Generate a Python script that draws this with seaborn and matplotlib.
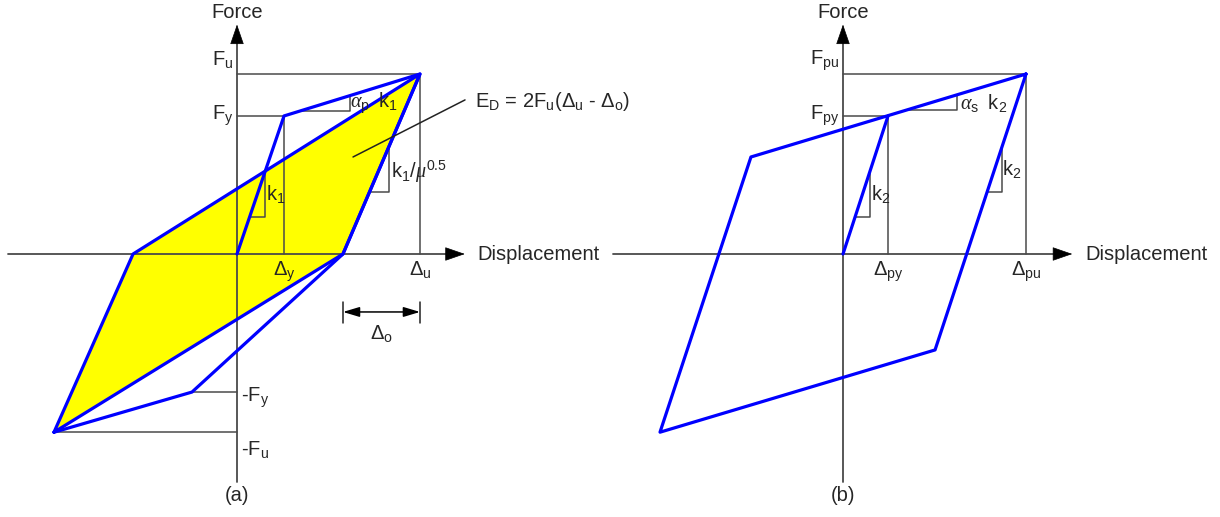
import numpy as np
import matplotlib.pyplot as plt
import seaborn as sns
from matplotlib.patches import ArrowStyle

# ---- panel (a): hysteresis of the bilinear model (displ / Du, force / Fu)
a_dy, a_fy = 0.257, 0.767          # yield point
a_du, a_fu = 1.0, 1.0              # ultimate point
a_rev = 0.579                      # zero-force crossing on unloading (Du - Do)
a_neg_dy, a_neg_fy = -0.246, -0.767
a_neg_du, a_neg_fu = -1.0, -0.99
a_fill_d = [-1.0, -0.568, 1.0, 0.579, -1.0]     # yellow area E_D
a_fill_f = [-0.99, 0.0, 1.0, 0.0, -0.99]
a_loop_d = [0.0, 0.257, 1.0, 0.579, -0.246, -1.0]
a_loop_f = [0.0, 0.767, 1.0, 0.0, -0.767, -0.99]

# ---- panel (b): steady-state loop
b_dy, b_fy = 0.246, 0.767
b_du, b_fu = 1.0, 1.0
b_init_d = [0.0, 0.246]
b_init_f = [0.0, 0.767]
b_loop_d = [1.0, 0.503, -1.0, -0.503, 1.0]
b_loop_f = [1.0, -0.533, -0.99, 0.539, 1.0]

sns.set_style('white')
plt.rcParams['font.family'] = ['Liberation Sans', 'DejaVu Sans']
plt.rcParams['mathtext.fontset'] = 'custom'
plt.rcParams['mathtext.rm'] = 'Liberation Sans'
plt.rcParams['mathtext.it'] = 'Liberation Serif:italic'
plt.rcParams['mathtext.default'] = 'regular'

BLUE = '#0000ff'
GREY = '#4a4a4a'
FS = 14.5

fig, axes = plt.subplots(1, 2, figsize=(12.2, 5.17), dpi=100)

# pixel layout: origin of each panel and scale (px per unit)
W, H = 1220, 517
sx, sy = 183.0, 180.0
for ax, ox, x0px, x1px in [(axes[0], 237, 0, 610), (axes[1], 843, 610, 1220)]:
    ax.set_position([x0px / W, 0, (x1px - x0px) / W, 1])
    ax.set_xlim((x0px - ox) / sx, (x1px - ox) / sx)
    ax.set_ylim(-(H - 254) / sy, 254 / sy)
    ax.axis('off')

head = ArrowStyle('-|>', head_length=1.3, head_width=0.45)


def draw_axes(ax, xl, xr, yb, yt):
    ax.plot([xl, xr - 0.05], [0, 0], color=GREY, lw=1.3, zorder=1)
    ax.plot([0, 0], [yb, yt - 0.05], color=GREY, lw=1.3, zorder=1)
    ax.annotate('', xy=(xr, 0), xytext=(xr - 0.1, 0),
                arrowprops=dict(arrowstyle=head, color='black', lw=0.5, mutation_scale=10))
    ax.annotate('', xy=(0, yt), xytext=(0, yt - 0.1),
                arrowprops=dict(arrowstyle=head, color='black', lw=0.5, mutation_scale=10))
    ax.text(0, 1.34, 'Force', ha='center', va='center', fontsize=FS)
    ax.text(xr + 0.055, 0, 'Displacement', ha='left', va='center', fontsize=FS)


def slope_tri(ax, p0, p1, xa, xb):
    xs, ys = [p0[0], p1[0]], [p0[1], p1[1]]
    ya, yb = np.interp(xa, xs, ys), np.interp(xb, xs, ys)
    ax.plot([xa, xb, xb], [ya, ya, yb], color=GREY, lw=1.1, zorder=2)


def guide(ax, d, f):
    ax.plot([0, d], [f, f], color=GREY, lw=1.1, zorder=1)
    ax.plot([d, d], [0, f], color=GREY, lw=1.1, zorder=1)


# ================= (a)
ax = axes[0]
draw_axes(ax, -1.25, 1.26, -1.267, 1.29)
ax.fill(a_fill_d, a_fill_f, color='#ffff00', zorder=0)
guide(ax, a_du, a_fu)
guide(ax, a_dy, a_fy)
ax.plot([a_neg_dy, 0], [a_neg_fy, a_neg_fy], color=GREY, lw=1.1, zorder=1)
ax.plot([a_neg_du, 0], [a_neg_fu, a_neg_fu], color=GREY, lw=1.1, zorder=1)
sns.lineplot(x=a_fill_d, y=a_fill_f, sort=False, estimator=None, color=BLUE, lw=2.3, ax=ax, zorder=3)
sns.lineplot(x=a_loop_d, y=a_loop_f, sort=False, estimator=None, color=BLUE, lw=2.3, ax=ax, zorder=3)

slope_tri(ax, (a_dy, a_fy), (a_du, a_fu), 0.344, 0.617)
slope_tri(ax, (0, 0), (a_dy, a_fy), 0.069, 0.153)
slope_tri(ax, (a_rev, 0), (a_du, a_fu), 0.724, 0.831)

# pointer to E_D
ax.plot([0.634, 1.246], [0.539, 0.856], color='#222222', lw=1.1, zorder=4)

# Do dimension
ax.plot([a_rev, a_rev], [-0.267, -0.383], color='#222222', lw=1.1)
ax.plot([a_du, a_du], [-0.267, -0.383], color='#222222', lw=1.1)
ax.annotate('', xy=(a_du, -0.322), xytext=(a_rev, -0.322),
            arrowprops=dict(arrowstyle=ArrowStyle('<|-|>', head_length=1.0, head_width=0.3),
                            color='black', lw=1.1, mutation_scale=10, shrinkA=0, shrinkB=0))

ax.text(-0.02, 1.075, '$F_u$', ha='right', va='center', fontsize=FS)
ax.text(-0.02, a_fy, '$F_y$', ha='right', va='center', fontsize=FS)
ax.text(a_dy, -0.03, r'$\Delta_y$', ha='center', va='top', fontsize=FS)
ax.text(a_du, -0.03, r'$\Delta_u$', ha='center', va='top', fontsize=FS)
ax.text(0.02, -0.80, '-$F_y$', ha='left', va='center', fontsize=FS)
ax.text(0.02, -1.09, '-$F_u$', ha='left', va='center', fontsize=FS)
ax.text(0, -1.34, '(a)', ha='center', va='center', fontsize=FS)
ax.text(0.16, 0.33, '$k_1$', ha='left', va='center', fontsize=FS)
ax.text(0.62, 0.835, r'$\mathit{\alpha}_p\ \ k_1$', ha='left', va='center', fontsize=FS)
ax.text(0.84, 0.46, r'$k_1/\mathit{\mu}^{0.5}$', ha='left', va='center', fontsize=FS)
ax.text(1.30, 0.85, r'$E_D$ = 2$F_u$($\Delta_u$ - $\Delta_o$)', ha='left', va='center', fontsize=FS)
ax.text((a_rev + a_du) / 2, -0.385, r'$\Delta_o$', ha='center', va='top', fontsize=FS)

# ================= (b)
ax = axes[1]
draw_axes(ax, -1.256, 1.268, -1.267, 1.29)
guide(ax, b_du, b_fu)
guide(ax, b_dy, b_fy)
sns.lineplot(x=b_init_d, y=b_init_f, sort=False, estimator=None, color=BLUE, lw=2.3, ax=ax, zorder=3)
sns.lineplot(x=b_loop_d, y=b_loop_f, sort=False, estimator=None, color=BLUE, lw=2.3, ax=ax, zorder=3)

slope_tri(ax, (b_dy, b_fy), (b_du, b_fu), 0.35, 0.623)
slope_tri(ax, (0, 0), (b_dy, b_fy), 0.066, 0.148)
slope_tri(ax, (b_loop_d[1], b_loop_f[1]), (b_du, b_fu), 0.787, 0.869)

ax.text(-0.02, 1.075, '$F_{pu}$', ha='right', va='center', fontsize=FS)
ax.text(-0.02, b_fy, '$F_{py}$', ha='right', va='center', fontsize=FS)
ax.text(b_dy, -0.03, r'$\Delta_{py}$', ha='center', va='top', fontsize=FS)
ax.text(b_du, -0.03, r'$\Delta_{pu}$', ha='center', va='top', fontsize=FS)
ax.text(0, -1.34, '(b)', ha='center', va='center', fontsize=FS)
ax.text(0.155, 0.33, '$k_2$', ha='left', va='center', fontsize=FS)
ax.text(0.64, 0.835, r'$\mathit{\alpha}_s\ \ k_2$', ha='left', va='center', fontsize=FS)
ax.text(0.87, 0.47, '$k_2$', ha='left', va='center', fontsize=FS)

fig.savefig('out.png', dpi=100)
